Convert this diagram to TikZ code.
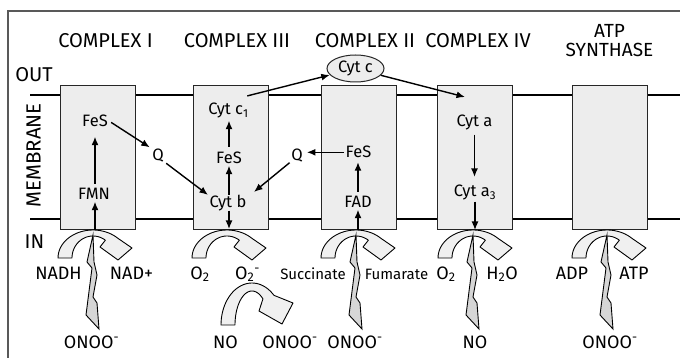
\documentclass[tikz,border=0pt]{standalone}
\usepackage{fontspec}
\setmainfont{Fira Sans}
\usetikzlibrary{arrows.meta,shapes.geometric,calc}
\tikzset{
 hd/.style={font=\fontsize{20}{23}\selectfont, anchor=base, inner sep=0pt},
 lab/.style={font=\fontsize{16.5}{19}\selectfont, anchor=base, inner sep=1.5pt, text height=11.4pt, text depth=0pt},
 blab/.style={font=\fontsize{18}{21}\selectfont, anchor=base, inner sep=0pt},
 slab/.style={font=\fontsize{15}{18}\selectfont, anchor=base, inner sep=0pt},
 cbox/.style={draw=black!85, line width=1pt, fill=black!7, minimum width=75pt, minimum height=144pt, inner sep=0pt},
 arr/.style={line width=1.4pt, -{Latex[length=8.5pt,width=7pt]}},
 bentst/.style={draw=black, line width=0.9pt, fill=black!6, line join=round},
 boltst/.style={draw=black, line width=0.9pt, fill=black!16, line join=miter},
 memb/.style={line width=2pt},
 framest/.style={draw=black!65, line width=1.3pt},
 bent/.pic={
  \draw[bentst] plot[domain=180:315,samples=30] ({35*cos(\x)},{28+28*sin(\x)}) -- (39,18) -- (25,30) -- (7,17)
   -- plot[domain=306:180,samples=30] ({21*cos(\x)},{28+22*sin(\x)}) -- cycle;
 },
 bolt/.pic={
  \draw[boltst] (0,0) -- (-6,27) -- (-1,33) -- (-7,80) -- (6,94) -- (4,68) -- (0,62) -- (4,40) -- (1,27) -- cycle;
 },
}
\begin{document}
\begin{tikzpicture}[x=1pt,y=-1pt]
\useasboundingbox (0,0) rectangle (680,358);
% frame
\draw[framest] (8,358) -- (8,11) -- (680,11);
% membrane
\draw[memb] (30,95) -- (680,95);
\draw[memb] (30,219) -- (680,219);
% boxes
\node[cbox] (box1) at (97.5,158) {};
\node[cbox] (box3) at (230.5,158) {};
\node[cbox] (box2) at (359,158) {};
\node[cbox] (box4) at (475,158) {};
\node[cbox] (box5) at (609.5,158) {};
\node[ellipse, draw=black!85, line width=1pt, fill=black!7, minimum width=57pt, minimum height=27pt, inner sep=0pt, font=\fontsize{16.5}{19}\selectfont] (cytc) at (355.5,68.5) {Cyt c};
% headings
\node[hd] (h1) at (105.5,48) {COMPLEX I};
\node[hd] (h3) at (237,48) {COMPLEX III};
\node[hd] (h2) at (365,48) {COMPLEX II};
\node[hd] (h4) at (478,48) {COMPLEX IV};
\node[font=\fontsize{19}{19.5}\selectfont, align=center, anchor=south, inner sep=0pt] (h5) at (609.5,57) {ATP\\SYNTHASE};
\node[hd] (out) at (34,82) {OUT};
\node[hd] (in) at (34.5,248) {IN};
\node[font=\fontsize{20.5}{23}\selectfont, rotate=90, inner sep=0pt] (memlab) at (33.5,155.5) {MEMBRANE};
% inner labels
\node[lab] (fes1) at (95,127) {FeS};
\node[lab] (fmn) at (94,200) {FMN};
\node[lab] (q1) at (158,161) {Q};
\node[lab] (cytc1) at (228.5,115) {Cyt c\textsubscript{1}};
\node[lab] (fes3) at (229,164) {FeS};
\node[lab] (cytb) at (228,208) {Cyt b};
\node[lab] (q2) at (297,161) {Q};
\node[lab] (fes2) at (358.5,158) {FeS};
\node[lab] (fad) at (358,208) {FAD};
\node[lab] (cyta) at (474.5,127) {Cyt a};
\node[lab] (cyta3) at (475,197) {Cyt a\textsubscript{3}};
% bottom labels
\node[blab] (nadh) at (58.5,279) {NADH};
\node[blab] (nad) at (131.5,279) {NAD+};
\node[blab] (o2a) at (200,279) {O\textsubscript{2}};
\node[blab] (o2m) at (247.5,279) {O\textsubscript{2}\textsuperscript{-}};
\node[slab] (succ) at (313,279) {Succinate};
\node[slab] (fum) at (396.5,279) {Fumarate};
\node[blab] (o2b) at (446,279) {O\textsubscript{2}};
\node[blab] (h2o) at (502,279) {H\textsubscript{2}O};
\node[blab] (adp) at (572,279) {ADP};
\node[blab] (atp) at (634,279) {ATP};
\node[blab] (pn1) at (91.5,348) {ONOO\textsuperscript{-}};
\node[blab] (no1) at (225.5,348) {NO};
\node[blab] (pn2) at (290,348) {ONOO\textsuperscript{-}};
\node[blab] (pn3) at (355,348) {ONOO\textsuperscript{-}};
\node[blab] (no2) at (475,348) {NO};
\node[blab] (pn4) at (610,348) {ONOO\textsuperscript{-}};
% connectors
\coordinate (in1) at (95,230);
\draw[arr] (in1) -- (in1 |- fmn.south);
\draw[arr, shorten <=3pt, shorten >=8pt] (fes1.south |- fmn.north) -- (fes1.south);
\draw[arr, shorten <=2pt, shorten >=1pt] (fes1.east) -- (q1.north west);
\draw[arr, shorten <=1pt] (q1.south east) -- (cytb.north west);
\draw[arr] (fes3.south |- cytb.north) -- (fes3.south);
\draw[arr, shorten <=4pt, shorten >=4pt] (fes3.north) -- (fes3.north |- cytc1.south);
\coordinate (out3) at (229,229);
\draw[arr, shorten <=1pt] (out3 |- cytb.south) -- (out3);
\draw[arr] ($(cytc1.north east)+(-3,-6)$) -- (cytc);
\coordinate (cytain) at (465,97);
\draw[arr] (cytc.-15) -- (cytain);
\draw[arr, shorten <=6pt, shorten >=7pt] (cyta.south) -- (cyta.south |- cyta3.north);
\coordinate (out4) at (475,230);
\draw[arr, shorten <=3pt] (out4 |- cyta3.south) -- (out4);
\coordinate (in2) at (358,230);
\draw[arr] (in2) -- (in2 |- fad.south);
\draw[arr, shorten <=3pt, shorten >=2.5pt] (fad.north) -- (fad.north |- fes2.south);
\draw[arr, shorten >=2.5pt] (fes2.west) -- (fes2.west -| q2.east);
\draw[arr] (q2.south west) -- ($(cytb.north east)+(6,-3)$);
% bent arrows
\pic at (93,230) {bent};
\pic at (227,230) {bent};
\pic at (356,230) {bent};
\pic at (473,230) {bent};
\pic at (607,230) {bent};
\draw[bentst] plot[domain=180:315,samples=30] ({252+31*cos(\x)},{325+42*sin(\x)}) -- (293,303) -- (282,324) -- (259,311)
  -- plot[domain=310:180,samples=30] ({252+17*cos(\x)},{325+34*sin(\x)}) -- cycle;
% bolts
\pic at (93,235) {bolt};
\pic at (356,235) {bolt};
\pic at (473,235) {bolt};
\pic at (607,235) {bolt};
\end{tikzpicture}
\end{document}
